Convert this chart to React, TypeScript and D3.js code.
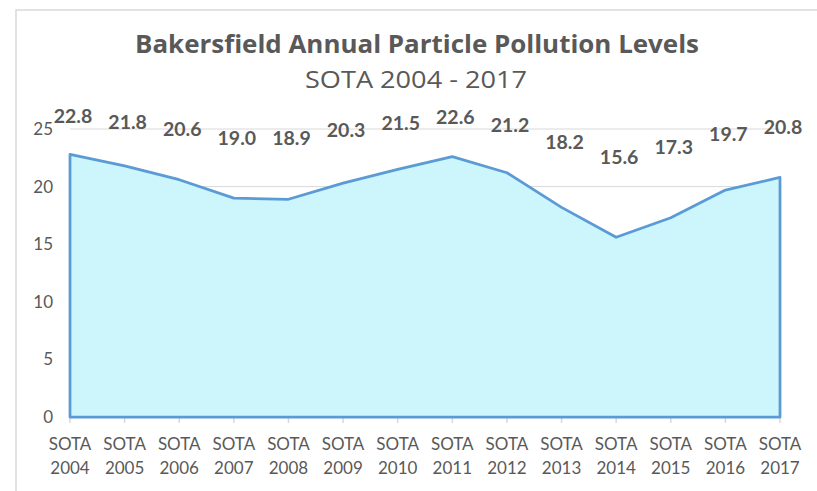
import React from "react";
import * as d3 from "d3";

const categories = ["2004","2005","2006","2007","2008","2009","2010","2011","2012","2013","2014","2015","2016","2017"];
const values = [22.8, 21.8, 20.6, 19.0, 18.9, 20.3, 21.5, 22.6, 21.2, 18.2, 15.6, 17.3, 19.7, 20.8];
const yTicks = [0, 5, 10, 15, 20, 25];
const title = "Bakersfield Annual Particle Pollution Levels";
const subtitle = "SOTA 2004 - 2017";
const catPrefix = "SOTA";

const W = 817, H = 491;
const FONT = "Lato, 'Open Sans', sans-serif";
const TXT = "#595959";

export default function App() {
  const x = d3.scalePoint<string>().domain(categories).range([70, 780]);
  const y = d3.scaleLinear().domain([0, 25]).range([417, 129]);
  const area = d3.area<number>()
    .x((_, i) => x(categories[i]) as number)
    .y0(y(0))
    .y1((d) => y(d));
  const areaPath = area(values) as string;
  const labelY = (v: number) => 0.494 * y(v) + 39.8;

  return (
    <svg width={W} height={H} style={{ position: "absolute", left: 0, top: 0, background: "#fff" }}
      fontFamily={FONT}>
      <rect x={16} y={10} width={W + 10} height={H + 10} fill="#fff" stroke="#d9d9d9" strokeWidth={1.5} />
      <text x={417} y={53} textAnchor="middle" fontSize={25} fontWeight="bold" fill={TXT}
        fontFamily="'Open Sans', sans-serif" textLength={564} lengthAdjust="spacingAndGlyphs">{title}</text>
      <text x={416} y={88} textAnchor="middle" fontSize={24} fill={TXT}
        fontFamily="'Open Sans', sans-serif" textLength={222} lengthAdjust="spacingAndGlyphs">{subtitle}</text>
      {yTicks.filter((t) => t > 0).map((t) => (
        <line key={"g" + t} x1={70} x2={780} y1={y(t)} y2={y(t)} stroke="#d9d9d9" strokeWidth={1} />
      ))}
      <line x1={70} x2={780} y1={y(0)} y2={y(0)} stroke="#d9d9d9" strokeWidth={1.5} />
      {categories.map((c) => (
        <line key={"t" + c} x1={x(c)} x2={x(c)} y1={y(0)} y2={y(0) + 6} stroke="#d9d9d9" strokeWidth={1.5} />
      ))}
      <path d={areaPath} fill="#ccf5fc" stroke="#5b9bd5" strokeWidth={2.75} strokeLinejoin="round" />
      {yTicks.map((t) => (
        <text key={"y" + t} x={53} y={y(t)} dy="0.35em" textAnchor="end" fontSize={17} fill={TXT}>{t}</text>
      ))}
      {categories.map((c) => (
        <text key={"c" + c} x={x(c)} textAnchor="middle" fontSize={17} fill={TXT}>
          <tspan x={x(c)} y={450}>{catPrefix}</tspan>
          <tspan x={x(c)} y={474}>{c}</tspan>
        </text>
      ))}
      {values.map((v, i) => (
        <text key={"l" + i} x={(x(categories[i]) as number) + 3} y={labelY(v)} dy="0.36em"
          textAnchor="middle" fontSize={19.5} fontWeight="bold" fill={TXT}>{v.toFixed(1)}</text>
      ))}
    </svg>
  );
}
